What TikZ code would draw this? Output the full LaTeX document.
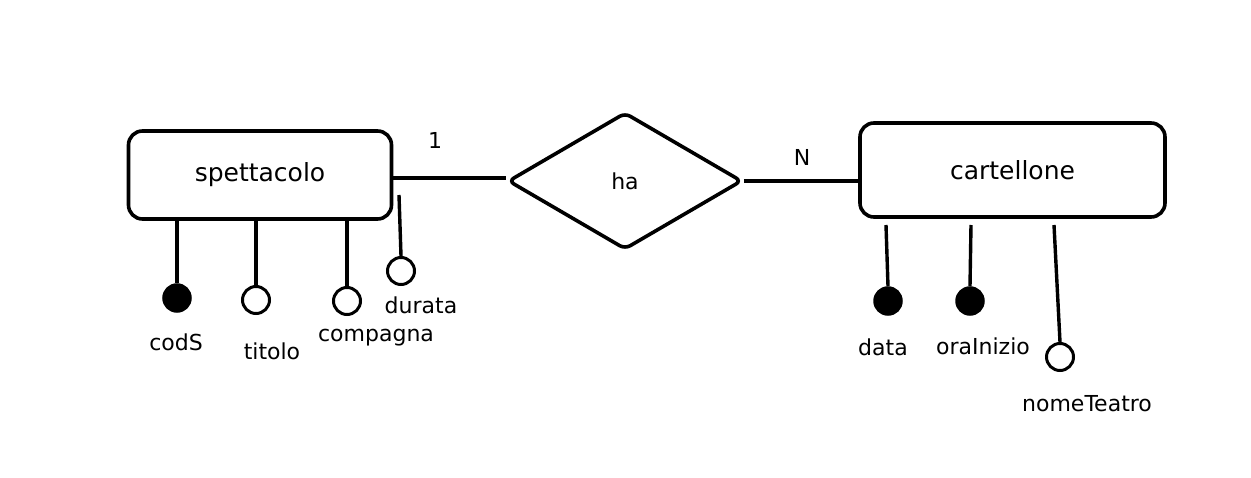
\documentclass[tikz,border=0pt]{standalone}
\usepackage{fontspec}
\setmainfont{DejaVu Sans}
\usetikzlibrary{shapes.geometric}
\begin{document}
\begin{tikzpicture}[x=1pt,y=-1pt,
  ink/.style={line width=3.6pt,draw=black},
  entity/.style={ink,rounded corners=14pt,minimum width=263pt,minimum height=88pt,inner sep=0pt,font=\fontsize{25}{28}\selectfont},
  relation/.style={ink,diamond,aspect=1.71,minimum width=234pt,minimum height=137pt,inner sep=0pt,rounded corners=6pt,font=\fontsize{22}{26}\selectfont},
  key/.style={circle,fill=black,draw=black,line width=2.5pt,minimum size=27pt,inner sep=0pt},
  attr/.style={circle,fill=white,draw=black,line width=3pt,minimum size=27pt,inner sep=0pt},
  lbl/.style={font=\fontsize{22}{26}\selectfont,inner sep=0pt},
  conn/.style={line width=3.4pt}
]
\useasboundingbox (0,0) rectangle (1251,478);
% entities and relation
\node[entity] (spett) at (260,175) {spettacolo};
\node[entity,minimum width=305pt,minimum height=94pt] (cart) at (1012.5,170) {cartellone};
\node[relation] (ha) at (625,181) {ha};
\draw[conn] (spett.east |- 0,178) -- (ha.west |- 0,178);
\draw[conn] (ha.east) -- (cart.west |- ha.east);
\node[lbl] (one) at (435,140) {1};
\node[lbl] (nn) at (802,157) {N};
% spettacolo attributes
\node[key] (codS) at (177,298) {};
\node[attr] (titolo) at (256,300) {};
\node[attr] (compagna) at (347,301) {};
\node[attr] (durata) at (401,271) {};
\draw[conn] (codS.north) -- (codS.north |- spett.south);
\draw[conn] (titolo.north) -- (titolo.north |- spett.south);
\draw[conn] (compagna.north) -- (compagna.north |- spett.south);
\coordinate (durtop) at (399,195);
\draw[conn] (durata.north) -- (durtop);
\node[lbl] (lcodS) at (176,342) {codS};
\node[lbl] (ltitolo) at (272,351) {titolo};
\node[lbl] (lcompagna) at (376,338) {compagna};
\node[lbl] (ldurata) at (421,305) {durata};
% cartellone attributes
\node[key] (data) at (888,301) {};
\node[key] (ora) at (970,301) {};
\node[attr] (nome) at (1060,357) {};
\coordinate (datatop) at (886,225);
\coordinate (oratop) at (971,225);
\coordinate (nometop) at (1054,225);
\draw[conn] (data.north) -- (datatop);
\draw[conn] (ora.north) -- (oratop);
\draw[conn] (nome.north) -- (nometop);
\node[lbl] (ldata) at (883,347) {data};
\node[lbl] (lora) at (983,346) {oraInizio};
\node[lbl] (lnome) at (1087,404) {nomeTeatro};
\end{tikzpicture}
\end{document}
